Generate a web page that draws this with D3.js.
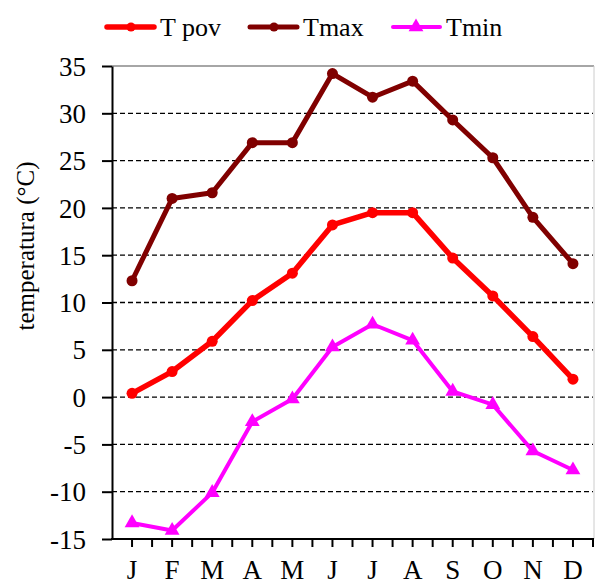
<!DOCTYPE html>
<html><head>
<meta charset="utf-8">
<script src="https://d3js.org/d3.v7.min.js"></script>
<style>
  body { margin: 0; background: #fff; }
  text { font-family: "Liberation Serif", "Times New Roman", serif; fill: #000; }
  .grid line { stroke: #000; stroke-width: 1.3px; stroke-dasharray: 5,3; }
</style>
</head>
<body>
<svg id="chart" width="595" height="585"></svg>
<script>
// months and series
const months = ["J","F","M","A","M","J","J","A","S","O","N","D"];
const tPov = [0.4, 2.7, 5.9, 10.2, 13.1, 18.2, 19.5, 19.5, 14.7, 10.7, 6.4, 1.9];
const tMax = [12.3, 21.0, 21.6, 26.9, 26.9, 34.2, 31.7, 33.4, 29.3, 25.3, 19.0, 14.1];
const tMin = [-13.3, -14.1, -10.1, -2.6, -0.2, 5.3, 7.7, 6.0, 0.6, -0.8, -5.7, -7.7];
const yTicks = [-15, -10, -5, 0, 5, 10, 15, 20, 25, 30, 35];

var serif = "'Liberation Serif', 'Times New Roman', serif";
var svg = d3.select("#chart");
var pLeft = 112, pRight = 593, pTop = 66, pBottom = 539;

var x = d3.scaleBand().domain(d3.range(12)).range([pLeft, pRight]);
var y = d3.scaleLinear().domain([-15, 35]).range([pBottom, pTop]);

// dashed grid lines (not on the top edge)
svg.append("g").attr("class", "grid")
  .selectAll("line").data(yTicks.filter(d => d > -15 && d < 35))
  .enter().append("line")
  .attr("x1", pLeft).attr("x2", pRight)
  .attr("y1", d => y(d)).attr("y2", d => y(d));

// plot area border top / right
svg.append("line").attr("x1", pLeft).attr("x2", pRight + 1).attr("y1", pTop).attr("y2", pTop)
  .attr("stroke", "#888").attr("stroke-width", 1.5);
svg.append("line").attr("x1", pRight + 1).attr("x2", pRight + 1).attr("y1", pTop).attr("y2", pBottom)
  .attr("stroke", "#ccc").attr("stroke-width", 1);

// y axis
var yAxis = svg.append("g").attr("transform", `translate(${pLeft},0)`)
  .call(d3.axisLeft(y).tickValues(yTicks).tickSize(10).tickSizeOuter(0).tickPadding(16)
    .tickFormat(d => String(d)));
yAxis.attr("font-family", serif);
yAxis.select(".domain").attr("stroke-width", 2);
yAxis.selectAll(".tick line").attr("stroke-width", 2);
yAxis.selectAll(".tick text").attr("dy", "0.34em")
  .style("font-size", "27px").style("font-family", serif);

// x axis: ticks on every half band
var xb = d3.scaleLinear().domain([0, 24]).range([pLeft, pRight]);
var xAxis = svg.append("g").attr("transform", `translate(0,${pBottom})`);
xAxis.append("line").attr("x1", pLeft - 1).attr("x2", pRight + 1).attr("y1", 0).attr("y2", 0)
  .attr("stroke", "#000").attr("stroke-width", 2);
xAxis.selectAll(".tk").data(d3.range(1, 25)).enter().append("line")
  .attr("x1", d => xb(d)).attr("x2", d => xb(d)).attr("y1", 0).attr("y2", 8)
  .attr("stroke", "#000").attr("stroke-width", 2);
xAxis.selectAll(".lab").data(months).enter().append("text")
  .attr("x", (d, i) => x(i) + x.bandwidth() / 2).attr("y", 40)
  .attr("text-anchor", "middle")
  .style("font-size", "27px").style("font-family", serif).text(d => d);

// y label
svg.append("text").attr("transform", "translate(34,246) rotate(-90)")
  .attr("text-anchor", "middle")
  .style("font-size", "25px").style("font-family", serif).text("temperatura (°C)");

var line = d3.line().x((d, i) => x(i) + x.bandwidth() / 2).y(d => y(d));
var tri = d3.symbol().type(d3.symbolTriangle).size(95);

function drawSeries(data, color, width, marker) {
  svg.append("path").datum(data).attr("d", line)
    .attr("fill", "none").attr("stroke", color).attr("stroke-width", width)
    .attr("stroke-linejoin", "round");
  if (marker === "circle") {
    svg.selectAll(null).data(data).enter().append("circle")
      .attr("cx", (d, i) => x(i) + x.bandwidth() / 2).attr("cy", d => y(d))
      .attr("r", 5.5).attr("fill", color);
  } else {
    svg.selectAll(null).data(data).enter().append("path")
      .attr("d", tri)
      .attr("transform", (d, i) => `translate(${x(i) + x.bandwidth() / 2},${y(d)})`)
      .attr("fill", color);
  }
}

drawSeries(tMax, "#800000", 5, "circle");
drawSeries(tPov, "#ff0000", 5.5, "circle");
drawSeries(tMin, "#ff00ff", 4, "triangle");

// legend
var legend = [
  {name: "T pov", color: "#ff0000", w: 5.5, m: "circle", x: 107},
  {name: "Tmax", color: "#800000", w: 5, m: "circle", x: 250},
  {name: "Tmin", color: "#ff00ff", w: 4, m: "triangle", x: 393}
];
var lg = svg.append("g");
legend.forEach(l => {
  lg.append("line").attr("x1", l.x).attr("x2", l.x + 47).attr("y1", 27).attr("y2", 27)
    .attr("stroke", l.color).attr("stroke-width", l.w).attr("stroke-linecap", "round");
  if (l.m === "circle") {
    lg.append("circle").attr("cx", l.x + 24).attr("cy", 27).attr("r", 4.5).attr("fill", l.color);
  } else {
    lg.append("path").attr("d", tri).attr("transform", `translate(${l.x + 23},27)`).attr("fill", l.color);
  }
  lg.append("text").attr("x", l.x + 53).attr("y", 36)
    .style("font-size", "26px").style("font-family", serif).text(l.name);
});
</script>
</body>
</html>
